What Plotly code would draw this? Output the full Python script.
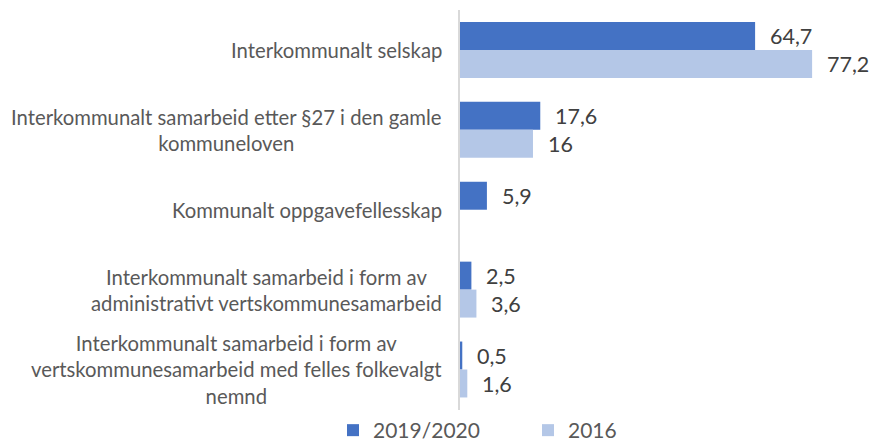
import plotly.graph_objects as go

categories = [
    "Interkommunalt selskap",
    "Interkommunalt samarbeid etter §27 i den gamle<br>kommuneloven",
    "Kommunalt oppgavefellesskap",
    "Interkommunalt samarbeid i form av<br>administrativt vertskommunesamarbeid",
    "Interkommunalt samarbeid i form av<br>vertskommunesamarbeid med felles folkevalgt<br>nemnd",
]
series_names = ["2019/2020", "2016"]
values_2019 = [64.7, 17.6, 5.9, 2.5, 0.5]
values_2016 = [77.2, 16.0, None, 3.6, 1.6]
colors = ["#4472C4", "#B4C7E7"]

FONT = "Lato"


def fmt(v):
    s = f"{v:g}"
    return s.replace(".", ",")


fig = go.Figure()
for name, vals, col in zip(series_names, [values_2019, values_2016], colors):
    fig.add_trace(go.Bar(
        name=name,
        y=categories,
        x=vals,
        orientation="h",
        marker=dict(color=col, line=dict(width=0)),
    ))

annotations = []
# value labels to the right of each bar
for vals, dy in zip([values_2019, values_2016], [14, -14]):
    for cat, v in zip(categories, vals):
        if v is None:
            continue
        annotations.append(dict(
            x=v, y=cat, xref="x", yref="y",
            text=fmt(v), showarrow=False,
            xanchor="left", yanchor="middle",
            xshift=13, yshift=dy,
            font=dict(family=FONT, size=21.5, color="#404040"),
        ))
# category labels, centred line by line
for cat in categories:
    annotations.append(dict(
        x=0, y=cat, xref="paper", yref="y",
        text=cat, showarrow=False,
        xanchor="right", yanchor="middle", align="center",
        xshift=-16,
        font=dict(family=FONT, size=20.3, color="#595959"),
    ))

fig.update_layout(
    width=874, height=444,
    margin=dict(l=460, r=14, t=10, b=34, autoexpand=False),
    paper_bgcolor="white", plot_bgcolor="white",
    barmode="group", bargap=0.3, bargroupgap=0,
    showlegend=True,
    legend=dict(
        orientation="h", x=-0.3175, xanchor="left",
        y=0.0, yanchor="top",
        font=dict(family=FONT, size=21, color="#595959"),
        entrywidth=150, entrywidthmode="pixels",
        traceorder="normal", bgcolor="rgba(0,0,0,0)",
    ),
    xaxis=dict(range=[0, 87.7], showgrid=False, zeroline=False,
               showticklabels=False, showline=False),
    yaxis=dict(autorange="reversed", showticklabels=False, showgrid=False,
               showline=True, linecolor="#D9D9D9", linewidth=2,
               ticks=""),
    annotations=annotations,
)

fig.write_html("out.html")
